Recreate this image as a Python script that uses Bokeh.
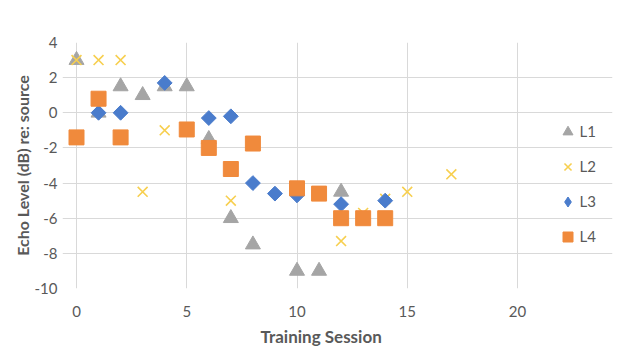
from bokeh.plotting import figure
from bokeh.models import ColumnDataSource, Legend, LegendItem, FixedTicker, Range1d, Title
from bokeh.embed import file_html
from bokeh.resources import INLINE
import math

# Echo level (dB re: source) per training session, four listeners
l1_session = [0, 1, 2, 3, 4, 5, 6, 7, 8, 10, 11, 12]
l1_level = [3, 0, 1.5, 1, 1.5, 1.5, -1.5, -6, -7.5, -9, -9, -4.5]

l2_session = [0, 1, 2, 3, 4, 7, 12, 13, 14, 15, 17]
l2_level = [3, 3, 3, -4.5, -1, -5, -7.3, -5.7, -4.9, -4.5, -3.5]

l3_session = [1, 2, 4, 6, 7, 8, 9, 10, 12, 14]
l3_level = [0, 0, 1.7, -0.3, -0.2, -4, -4.6, -4.7, -5.2, -5]

l4_session = [0, 1, 2, 5, 6, 7, 8, 10, 11, 12, 13, 14]
l4_level = [-1.4, 0.8, -1.4, -0.95, -2, -3.2, -1.75, -4.3, -4.6, -6, -6, -6]

x_ticks = [0, 5, 10, 15, 20]
y_ticks = [-10, -8, -6, -4, -2, 0, 2, 4]
y_tick_labels = ["-10", "-8", "-6", "-4", "-2", "0", "2", "4"]

FONT = "Lato"
TEXT = "#595959"
GRID = "#d9d9d9"

# The frame is a little wider than the 0-20 session span: a margin on the
# left keeps markers at session 0 unclipped, and the extra room on the right
# holds the legend. Grid lines are bounded to the 0-20 data area.
PLOT_W, PLOT_H = 620, 360
FRAME_LEFT, FRAME_RIGHT_PAD = 62, 8
PX_PER_SESSION = 441.0 / 20
x_start = -(76 - FRAME_LEFT) / PX_PER_SESSION
x_end = x_start + (PLOT_W - FRAME_LEFT - FRAME_RIGHT_PAD) / PX_PER_SESSION

p = figure(
    width=PLOT_W, height=PLOT_H,
    output_backend="svg", toolbar_location=None,
    x_range=Range1d(x_start, x_end), y_range=Range1d(-10, 4),
    min_border_left=FRAME_LEFT, min_border_right=FRAME_RIGHT_PAD,
    min_border_top=42, min_border_bottom=72,
)
p.outline_line_color = None
p.background_fill_color = "white"
p.border_fill_color = "white"

for ax in (p.xaxis[0], p.yaxis[0]):
    ax.axis_line_color = None
    ax.major_tick_line_color = None
    ax.minor_tick_line_color = None
    ax.major_tick_out = 0
    ax.major_tick_in = 0
    ax.minor_tick_out = 0
    ax.minor_tick_in = 0
    ax.major_label_text_font = FONT
    ax.major_label_text_font_size = "15px"
    ax.major_label_text_color = TEXT
    ax.axis_label_text_font = FONT
    ax.axis_label_text_font_style = "bold"
    ax.axis_label_text_color = TEXT

p.xaxis.ticker = FixedTicker(ticks=x_ticks)
p.yaxis.ticker = FixedTicker(ticks=y_ticks)
p.yaxis.major_label_overrides = dict(zip(y_ticks, y_tick_labels))
p.yaxis.axis_label = "Echo Level (dB) re: source"
p.yaxis.axis_label_text_font_size = "16px"
p.xaxis.major_label_standoff = 17
p.yaxis.major_label_standoff = 5
p.yaxis.axis_label_standoff = 0

# x-axis title, set a little right of the frame's middle
x_title = Title(
    text="Training Session", align="left", offset=198, standoff=9,
    text_font=FONT, text_font_size="17px", text_font_style="bold",
    text_color=TEXT,
)
p.add_layout(x_title, "below")

p.xgrid.ticker = FixedTicker(ticks=x_ticks)
p.ygrid.ticker = FixedTicker(ticks=y_ticks)
p.ygrid.bounds = (0, 20)
p.xgrid.grid_line_color = GRID
p.ygrid.grid_line_color = GRID

s1 = ColumnDataSource(dict(x=l1_session, y=l1_level))
s2 = ColumnDataSource(dict(x=l2_session, y=l2_level))
s3 = ColumnDataSource(dict(x=l3_session, y=l3_level))
s4 = ColumnDataSource(dict(x=l4_session, y=l4_level))

r1 = p.scatter("x", "y", source=s1, marker="triangle", size=15,
               fill_color="#a5a5a5", line_color="#a5a5a5")
r2 = p.scatter("x", "y", source=s2, marker="x", size=14,
               line_color="#f7cf4f", line_width=1.6)
r3 = p.scatter("x", "y", source=s3, marker="square", size=10.5, angle=math.pi / 4,
               fill_color="#4a7ccc", line_color="#4a7ccc")
r4 = p.scatter("x", "y", source=s4, marker="square", size=15,
               fill_color="#f08a3c", line_color="#f08a3c")

# legend swatch for L3: legend glyphs ignore marker angle, so a hidden
# diamond-marker copy of the L3 series supplies the key
r3_key = p.scatter("x", "y", source=s3, marker="diamond", visible=False,
                   fill_color="#4a7ccc", line_color="#4a7ccc")

legend = Legend(
    items=[LegendItem(label="L1", renderers=[r1]),
           LegendItem(label="L2", renderers=[r2]),
           LegendItem(label="L3", renderers=[r3_key]),
           LegendItem(label="L4", renderers=[r4])],
    location=(492.5, 34.5),
    padding=0, margin=0,
    glyph_width=25, glyph_height=35,
    label_height=35, spacing=0, label_standoff=0,
    label_text_font=FONT, label_text_font_size="15px",
    label_text_color=TEXT,
    inactive_fill_alpha=0,
    border_line_color=None, background_fill_alpha=0,
)
p.add_layout(legend, "center")

open("out.html", "w").write(file_html(p, INLINE))
